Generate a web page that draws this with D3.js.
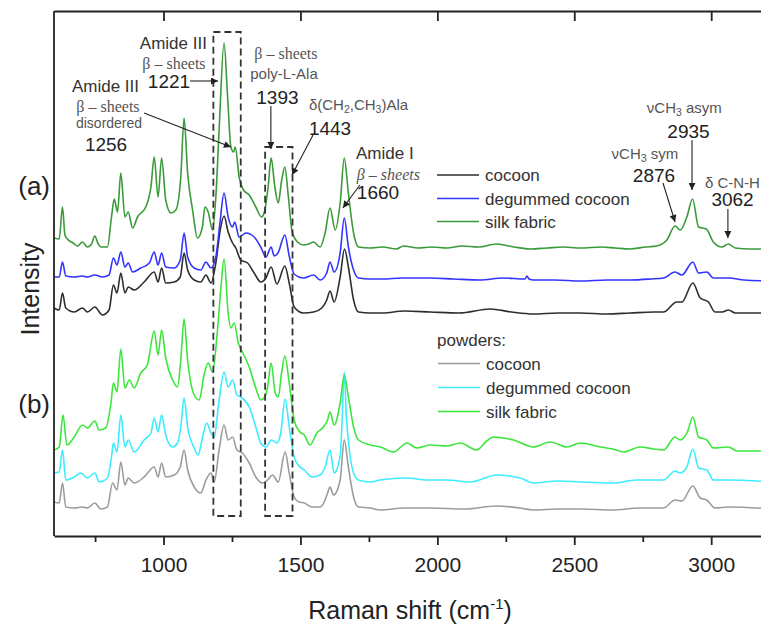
<!DOCTYPE html>
<html>
<head>
	<meta charset="utf-8">
	<title>Raman spectra of silk</title>
	<script src="https://cdn.jsdelivr.net/npm/d3@7"></script>
	<style>
		body {
			margin: 0;
			background: #fff;
			font-family: "Liberation Sans", Arial, Helvetica, sans-serif;
		}
	</style>
</head>
<body>
	<div id="chart"></div>
	<script>

		// axis
		const xTicks = [1000, 1500, 2000, 2500, 3000];
		const xMinorTicks = [750, 1250, 1750, 2250, 2750];

		// legend names
		const seriesNames = ["cocoon", "degummed cocoon", "silk fabric"];

		// spectra [Raman shift, intensity (a.u., stacked)]
		const cocoonA = [[600,228],[619,226],[631,243],[643,228],[674,224],[704,228],[722,224],[749,229],[777,221],[801,226],[817,251],[830,243],[844,263],[859,243],[871,249],[893,246],[929,254],[966,264],[980,254],[993,268],[1008,253],[1039,254],[1061,259],[1075,283],[1088,266],[1112,256],[1136,254],[1155,261],[1173,253],[1191,273],[1207,306],[1221,320],[1236,304],[1252,293],[1264,288],[1282,276],[1307,273],[1331,263],[1355,254],[1374,258],[1393,269],[1414,252],[1443,270],[1459,253],[1477,229],[1511,223],[1548,224],[1578,228],[1596,236],[1608,245],[1623,234],[1645,259],[1661,287],[1675,269],[1694,236],[1712,224],[1755,223],[1800,223],[1880,225],[1974,224],[2080,223],[2193,227],[2270,224],[2351,222],[2440,223],[2522,223],[2620,222],[2704,223],[2790,224],[2826,224],[2874,234],[2893,234],[2933,253],[2960,238],[2990,234],[3014,224],[3040,224],[3063,226],[3088,223],[3230,223]];
		const degummedA = [[600,259],[619,259],[631,274],[643,260],[674,259],[704,260],[722,259],[749,261],[777,259],[801,261],[817,278],[830,271],[844,284],[859,269],[871,273],[887,264],[917,268],[948,273],[966,284],[980,271],[993,283],[1008,269],[1039,268],[1061,276],[1075,303],[1088,279],[1112,268],[1136,266],[1155,274],[1173,268],[1191,279],[1206,313],[1221,343],[1236,319],[1252,309],[1260,314],[1276,299],[1301,303],[1331,299],[1355,289],[1374,279],[1393,289],[1404,280],[1418,283],[1443,301],[1459,280],[1477,262],[1511,258],[1548,261],[1572,256],[1596,263],[1608,274],[1623,264],[1645,283],[1660,318],[1675,289],[1694,266],[1712,258],[1755,257],[1800,257],[1870,258],[1974,258],[2060,257],[2156,256],[2240,258],[2320,257],[2327,260],[2335,257],[2351,256],[2430,256],[2522,255],[2620,256],[2704,256],[2780,257],[2826,258],[2868,264],[2893,261],[2933,274],[2954,263],[2984,264],[3008,258],[3063,258],[3120,256],[3230,255]];
		const silkA = [[600,298],[619,297],[631,329],[640,301],[649,297],[670,293],[686,290],[704,294],[722,289],[737,292],[749,300],[760,293],[771,289],[795,289],[810,319],[820,337],[832,324],[844,363],[859,319],[871,324],[887,308],[905,319],[935,329],[954,349],[966,379],[980,339],[993,378],[1008,336],[1027,323],[1045,326],[1063,359],[1075,418],[1088,363],[1106,326],[1124,298],[1142,309],[1151,329],[1163,324],[1179,306],[1191,339],[1203,406],[1221,493],[1234,439],[1246,389],[1256,384],[1262,389],[1276,359],[1292,346],[1313,341],[1337,329],[1358,319],[1370,326],[1382,349],[1393,378],[1406,350],[1419,333],[1431,355],[1443,369],[1456,339],[1469,305],[1489,294],[1511,291],[1530,292],[1548,294],[1572,289],[1590,303],[1608,328],[1627,306],[1645,333],[1660,378],[1675,343],[1694,303],[1712,289],[1755,288],[1800,289],[1850,287],[1876,290],[1930,288],[1980,289],[2035,288],[2090,290],[2150,289],[2217,292],[2280,289],[2339,287],[2400,288],[2460,289],[2522,288],[2600,289],[2650,288],[2704,287],[2760,289],[2800,290],[2838,296],[2868,310],[2887,306],[2911,319],[2932,337],[2954,309],[2982,307],[3008,294],[3039,289],[3063,292],[3088,288],[3140,287],[3230,287]];
		const cocoonB = [[600,34],[619,33],[631,53],[643,29],[674,28],[704,29],[722,28],[749,33],[771,27],[795,29],[814,53],[830,46],[844,74],[859,51],[871,58],[893,53],[929,59],[966,69],[980,59],[993,73],[1008,59],[1039,61],[1061,69],[1075,86],[1088,66],[1112,49],[1136,43],[1155,56],[1173,63],[1185,54],[1203,86],[1221,111],[1236,96],[1252,99],[1268,86],[1288,83],[1313,73],[1337,59],[1361,53],[1380,56],[1398,61],[1419,54],[1444,84],[1459,63],[1477,39],[1495,34],[1514,33],[1542,29],[1572,29],[1590,36],[1599,43],[1608,49],[1621,41],[1645,56],[1660,96],[1675,69],[1694,39],[1712,29],[1755,28],[1791,26],[1880,28],[1974,28],[2100,27],[2217,30],[2300,28],[2351,26],[2440,27],[2522,27],[2640,26],[2741,28],[2826,28],[2868,36],[2893,35],[2933,50],[2960,38],[2984,36],[3014,28],[3063,29],[3230,27]];
		const degummedB = [[600,63],[619,64],[631,86],[643,56],[674,59],[698,63],[722,58],[749,63],[765,54],[795,58],[810,79],[817,93],[830,84],[844,121],[859,89],[871,96],[893,84],[929,96],[954,103],[966,118],[980,104],[993,121],[1008,101],[1033,89],[1051,93],[1063,109],[1075,138],[1088,109],[1112,88],[1126,81],[1146,103],[1158,113],[1173,103],[1185,99],[1203,136],[1221,164],[1236,149],[1252,156],[1268,141],[1282,139],[1313,129],[1337,109],[1355,93],[1374,89],[1394,96],[1414,93],[1428,103],[1444,137],[1459,109],[1477,79],[1495,70],[1514,66],[1542,59],[1572,61],[1590,69],[1608,86],[1623,63],[1645,80],[1652,115],[1660,164],[1668,118],[1675,95],[1694,63],[1712,56],[1755,54],[1791,56],[1889,58],[1960,56],[2035,56],[2120,54],[2217,61],[2302,58],[2351,53],[2440,55],[2522,54],[2643,53],[2728,56],[2826,56],[2868,65],[2887,63],[2911,69],[2933,87],[2954,68],[2984,66],[3008,56],[3063,56],[3230,54]];
		const silkB = [[600,86],[619,89],[633,121],[647,91],[674,99],[704,111],[722,108],[749,115],[765,106],[789,108],[808,133],[817,153],[830,144],[844,187],[859,148],[875,156],[893,148],[917,163],[941,171],[966,205],[980,181],[993,206],[1008,178],[1033,156],[1051,149],[1063,176],[1075,217],[1088,176],[1112,141],[1130,136],[1148,161],[1163,173],[1179,164],[1197,206],[1210,250],[1221,277],[1236,223],[1246,208],[1258,213],[1273,193],[1288,184],[1313,169],[1337,148],[1355,136],[1370,139],[1380,149],[1393,173],[1408,143],[1419,139],[1431,163],[1443,180],[1459,153],[1477,116],[1495,105],[1514,101],[1535,91],[1560,103],[1584,109],[1599,116],[1608,124],[1623,111],[1645,133],[1660,161],[1675,139],[1694,109],[1712,96],[1755,91],[1791,89],[1840,84],[1889,93],[1925,88],[1974,91],[2035,90],[2083,93],[2144,86],[2180,95],[2205,99],[2240,98],[2278,96],[2351,89],[2412,94],[2473,89],[2522,93],[2595,89],[2640,87],[2680,84],[2741,89],[2790,87],[2826,86],[2868,99],[2887,96],[2913,104],[2933,119],[2954,99],[2984,96],[3008,88],[3063,89],[3094,85],[3230,85]];

		// highlighted bands [from, to, top intensity]
		const bands = [[1182, 1282, 504], [1371, 1471, 389]];
		const bandBottom = 20;

		const colorsA = ["#2e2e2e", "#3434ff", "#3a9a3a"];
		const colorsB = ["#9c9c9c", "#3cecff", "#3ce63c"];

		const width = 761;
		const height = 625;
		const plotLeft = 54, plotRight = 775, plotTop = 11, plotBottom = 536;

		const x = d3.scaleLinear().domain([600, 3233]).range([plotLeft, plotRight]);
		const y = d3.scaleLinear().domain([0, 525]).range([plotBottom, plotTop]);

		const svg = d3.select("#chart")
			.append("svg")
			.attr("width", width)
			.attr("height", height)
			.attr("viewBox", [0, 0, width, height]);

		svg.append("defs").append("marker")
			.attr("id", "arrow")
			.attr("viewBox", "0 0 10 10")
			.attr("refX", 10)
			.attr("refY", 5)
			.attr("markerUnits", "userSpaceOnUse")
			.attr("markerWidth", 8)
			.attr("markerHeight", 7)
			.attr("orient", "auto")
			.append("path")
			.attr("d", "M0,0L10,5L0,10Z")
			.attr("fill", "#222");

		svg.append("clipPath").attr("id", "clip")
			.append("rect")
			.attr("x", plotLeft).attr("y", plotTop)
			.attr("width", plotRight - plotLeft).attr("height", plotBottom - plotTop);

		// spectra
		const line = d3.line()
			.x(d => x(d[0]))
			.y(d => y(d[1]))
			.curve(d3.curveMonotoneX);

		const spectra = [
			[cocoonB, colorsB[0]], [degummedB, colorsB[1]], [silkB, colorsB[2]],
			[cocoonA, colorsA[0]], [degummedA, colorsA[1]], [silkA, colorsA[2]]
		];

		svg.append("g")
			.attr("clip-path", "url(#clip)")
			.selectAll("path")
			.data(spectra)
			.join("path")
			.attr("d", d => line(d[0]))
			.attr("fill", "none")
			.attr("stroke", d => d[1])
			.attr("stroke-width", 1.6)
			.attr("stroke-linejoin", "round");

		// dashed bands
		svg.append("g")
			.selectAll("rect")
			.data(bands)
			.join("rect")
			.attr("x", d => x(d[0]))
			.attr("y", d => y(d[2]))
			.attr("width", d => x(d[1]) - x(d[0]))
			.attr("height", d => y(bandBottom) - y(d[2]))
			.attr("fill", "none")
			.attr("stroke", "#333")
			.attr("stroke-width", 1.8)
			.attr("stroke-dasharray", "7,4");

		// axes
		const bottomAxis = svg.append("g")
			.attr("transform", `translate(0,${plotBottom})`)
			.call(d3.axisBottom(x).tickValues(xTicks).tickFormat(d3.format("d"))
				.tickSizeInner(9).tickSizeOuter(0).tickPadding(12));

		svg.append("g")
			.attr("transform", `translate(0,${plotBottom})`)
			.call(d3.axisBottom(x).tickValues(xMinorTicks).tickSizeInner(6).tickSizeOuter(0).tickFormat(""))
			.select(".domain").remove();

		svg.append("g")
			.attr("transform", `translate(0,${plotTop})`)
			.call(d3.axisTop(x).tickValues(xTicks).tickSizeInner(-10).tickSizeOuter(0).tickFormat(""));

		svg.append("line")
			.attr("x1", plotLeft).attr("x2", plotLeft)
			.attr("y1", plotTop).attr("y2", plotBottom)
			.attr("stroke", "#222")
			.attr("stroke-width", 1.8);

		svg.selectAll(".domain, .tick line")
			.attr("stroke", "#222")
			.attr("stroke-width", 1.8);

		bottomAxis.selectAll("text")
			.attr("font-family", "'Liberation Sans', Arial, sans-serif")
			.attr("font-size", 21)
			.attr("fill", "#222");

		// axis titles
		const title = svg.append("text")
			.attr("x", 410)
			.attr("y", 619)
			.attr("text-anchor", "middle")
			.attr("font-size", 25)
			.attr("fill", "#222");
		title.append("tspan").text("Raman shift (cm");
		title.append("tspan").attr("font-size", 15).attr("dy", -10).text("-1");
		title.append("tspan").attr("dy", 10).text(")");

		svg.append("text")
			.attr("transform", "translate(39,289) rotate(-90)")
			.attr("text-anchor", "middle")
			.attr("font-size", 25)
			.attr("fill", "#222")
			.text("Intensity");

		svg.selectAll(".panel")
			.data([["(a)", 195], ["(b)", 413]])
			.join("text")
			.attr("x", 50)
			.attr("y", d => d[1])
			.attr("text-anchor", "end")
			.attr("font-size", 26)
			.attr("fill", "#222")
			.text(d => d[0]);

		// peak annotations
		const styles = {
			name: { size: 17, fill: "#333", family: "'Liberation Sans', Arial, sans-serif" },
			beta: { size: 16, fill: "#555", family: "'Liberation Serif', 'DejaVu Serif', serif" },
			betaI: { size: 16, fill: "#555", family: "'Liberation Serif', 'DejaVu Serif', serif", italic: true },
			note: { size: 15, fill: "#555", family: "'Liberation Sans', Arial, sans-serif" },
			num: { size: 19, fill: "#222", family: "'Liberation Sans', Arial, sans-serif" }
		};

		const labels = [
			{ parts: [["Amide III"]], at: [1036, 487], style: "name" },
			{ parts: [["β – sheets"]], at: [1038, 467], style: "beta" },
			{ parts: [["1221"]], at: [1020, 448], style: "num" },
			{ parts: [["Amide III"]], at: [788, 444], style: "name" },
			{ parts: [["β – sheets"]], at: [797, 424], style: "beta" },
			{ parts: [["disordered"]], at: [801, 408], style: "note", size: 14 },
			{ parts: [["1256"]], at: [790, 385], style: "num" },
			{ parts: [["β – sheets"]], at: [1447, 477], style: "beta" },
			{ parts: [["poly-L-Ala"]], at: [1440, 457], style: "note" },
			{ parts: [["1393"]], at: [1416, 432], style: "num" },
			{ parts: [["δ(CH"], ["2", "sub"], [",CH"], ["3", "sub"], [")Ala"]], at: [1712, 426], style: "note" },
			{ parts: [["1443"]], at: [1608, 401], style: "num" },
			{ parts: [["Amide I"]], at: [1703, 377], style: "name", anchor: "start" },
			{ parts: [["β – sheets"]], at: [1706, 356], style: "betaI", anchor: "start" },
			{ parts: [["1660"]], at: [1706, 337], style: "num", anchor: "start" },
			{ parts: [["νCH"], ["3", "sub"], [" asym"]], at: [2902, 423], style: "note" },
			{ parts: [["2935"]], at: [2917, 398], style: "num" },
			{ parts: [["νCH"], ["3", "sub"], [" sym"]], at: [2758, 377], style: "note" },
			{ parts: [["2876"]], at: [2791, 354], style: "num" },
			{ parts: [["δ C-N-H"]], at: [2977, 348], style: "note", anchor: "start" },
			{ parts: [["3062"]], at: [3078, 330], style: "num" }
		];

		const arrows = [
			[[1097, 455], [1199, 455]],
			[[929, 423], [1246, 389]],
			[[1392, 430], [1392, 387]],
			[[1546, 401], [1469, 361]],
			[[1717, 351], [1655, 328]],
			[[2930, 396], [2930, 346]],
			[[2824, 353], [2868, 314]],
			[[3061, 327], [3061, 298]]
		];

		labels.forEach(l => {
			const s = styles[l.style];
			const size = l.size || s.size;
			const t = svg.append("text")
				.attr("x", x(l.at[0]))
				.attr("y", y(l.at[1]))
				.attr("text-anchor", l.anchor || "middle")
				.attr("font-family", s.family)
				.attr("font-size", size)
				.attr("font-style", s.italic ? "italic" : null)
				.attr("fill", s.fill);
			let shifted = false;
			l.parts.forEach(p => {
				const ts = t.append("tspan").text(p[0]);
				if (p[1] === "sub") {
					ts.attr("font-size", size * 0.7).attr("dy", size * 0.22);
					shifted = true;
				} else if (shifted) {
					ts.attr("dy", -size * 0.22);
					shifted = false;
				}
			});
		});

		svg.append("g")
			.selectAll("line")
			.data(arrows)
			.join("line")
			.attr("x1", d => x(d[0][0]))
			.attr("y1", d => y(d[0][1]))
			.attr("x2", d => x(d[1][0]))
			.attr("y2", d => y(d[1][1]))
			.attr("stroke", "#222")
			.attr("stroke-width", 1.1)
			.attr("marker-end", "url(#arrow)");

		// legends
		function legend(rows, colors, x0, title) {
			const g = svg.append("g");
			if (title) {
				g.append("text")
					.attr("x", x0 - 1)
					.attr("y", title[1] + 6)
					.attr("font-size", 17)
					.attr("fill", "#333")
					.text(title[0]);
			}
			rows.forEach((ry, i) => {
				g.append("line")
					.attr("x1", x0).attr("x2", x0 + 42)
					.attr("y1", ry).attr("y2", ry)
					.attr("stroke", colors[i])
					.attr("stroke-width", 1.6);
				g.append("text")
					.attr("x", x0 + 48)
					.attr("y", ry + 6)
					.attr("font-size", 17)
					.attr("fill", "#333")
					.text(seriesNames[i]);
			});
		}

		legend([175, 198.5, 221.5], colorsA, 437);
		legend([363.5, 387.5, 411.5], colorsB, 438, ["powders:", 340]);

	</script>
</body>
</html>
